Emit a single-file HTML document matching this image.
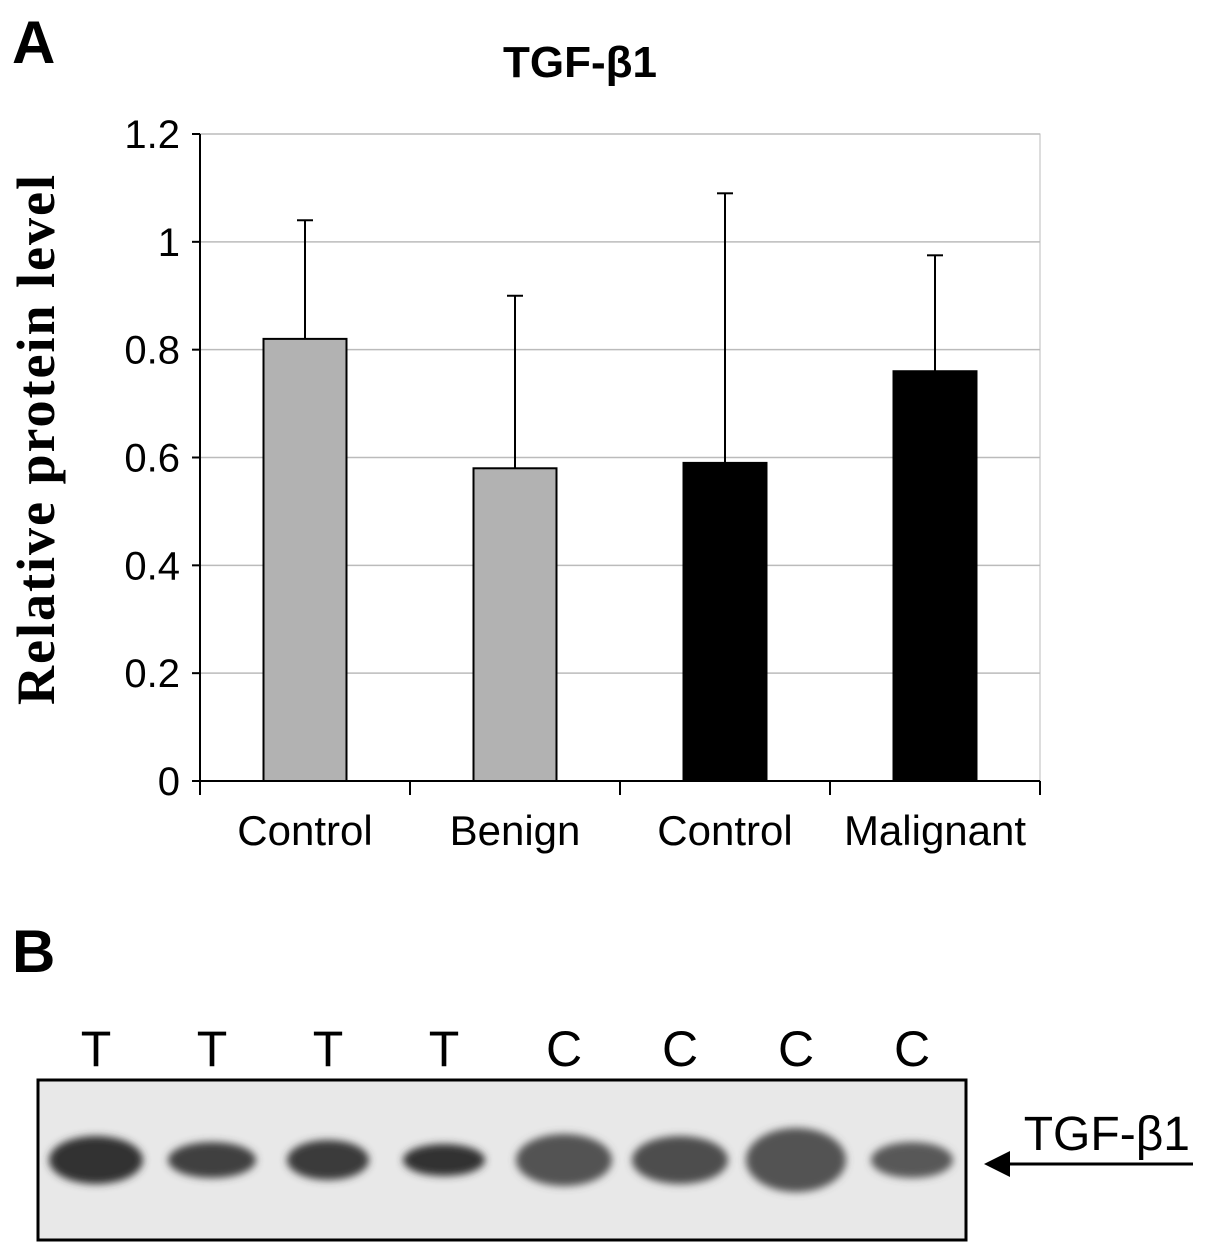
<!DOCTYPE html>
<html><head><meta charset="utf-8"><style>
body{margin:0;background:#fff;width:1205px;height:1251px;overflow:hidden}
svg text{font-family:"Liberation Sans",sans-serif}
</style></head><body>
<svg width="1205" height="1251" viewBox="0 0 1205 1251" xmlns="http://www.w3.org/2000/svg">
<defs>
<filter id="blur" x="-20%" y="-50%" width="140%" height="200%"><feGaussianBlur stdDeviation="4"/></filter>
</defs>
<text x="12" y="63" font-size="60" font-weight="bold">A</text>
<text x="580" y="77" font-size="44" font-weight="bold" text-anchor="middle">TGF-β1</text>
<text transform="translate(54,440) rotate(-90)" font-size="54" font-weight="bold" text-anchor="middle" textLength="530" style="font-family:'Liberation Serif',serif">Relative protein level</text>
<g id="chart"></g>
<text x="12" y="972" font-size="60" font-weight="bold">B</text>
<g id="blot"></g>
<text x="1190" y="1150" font-size="48" text-anchor="end">TGF-β1</text>
<line x1="1000" y1="1164" x2="1193" y2="1164" stroke="#000" stroke-width="3"/>
<polygon points="984,1164 1010,1151 1010,1177" fill="#000"/>
</svg>
<script>
const categories=["Control","Benign","Control","Malignant"];
const values=[0.82,0.58,0.59,0.76];
const errTops=[1.04,0.90,1.09,0.975];
const barColors=["#b2b2b2","#b2b2b2","#000","#000"];
const yTicks=[0,0.2,0.4,0.6,0.8,1,1.2];
const yTickLabels=["0","0.2","0.4","0.6","0.8","1","1.2"];
const laneLabels=["T","T","T","T","C","C","C","C"];
const bandWidths=[94,88,82,82,96,96,100,82];
const bandHeights=[48,36,40,32,52,48,64,36];
const bandDark=[0.8,0.75,0.77,0.8,0.68,0.7,0.68,0.65];
const NS="http://www.w3.org/2000/svg";
const x0=200,x1=1040,yBase=781,yTop=134,vMax=1.2;
const y=v=>yBase-(v/vMax)*(yBase-yTop);
const band=(x1-x0)/categories.length;
const xc=i=>x0+band*(i+0.5);
const g=document.getElementById('chart');
function mk(t,a,p){const e=document.createElementNS(NS,t);for(const k in a)e.setAttribute(k,a[k]);(p||g).appendChild(e);return e;}
mk('rect',{x:x0,y:yTop,width:x1-x0,height:yBase-yTop,fill:'none',stroke:'#bbb','stroke-width':1});
yTicks.forEach((v,i)=>{
  if(v>0){const l=mk('line',{x1:x0,x2:x1,y1:y(v),y2:y(v),stroke:'#bbb','stroke-width':1.5});
  
  }
  mk('line',{x1:x0-8,x2:x0,y1:y(v),y2:y(v),stroke:'#000','stroke-width':2});
  const t=mk('text',{x:x0-20,y:y(v)+14,'font-size':40,'text-anchor':'end'});t.textContent=yTickLabels[i];
  
  
});
mk('line',{x1:x0,x2:x0,y1:yTop,y2:yBase,stroke:'#000','stroke-width':2});
mk('line',{x1:x0,x2:x1,y1:yBase,y2:yBase,stroke:'#000','stroke-width':2});
for(let i=0;i<=categories.length;i++)mk('line',{x1:x0+band*i,x2:x0+band*i,y1:yBase,y2:yBase+14,stroke:'#000','stroke-width':2});
categories.forEach((c,i)=>{
  const bw=83,cx=xc(i);
  const eb=mk('line',{x1:cx,x2:cx,y1:y(errTops[i]),y2:y(values[i]),stroke:'#000','stroke-width':2});
  
  
  mk('line',{x1:cx-8,x2:cx+8,y1:y(errTops[i]),y2:y(errTops[i]),stroke:'#000','stroke-width':2});
  const r=mk('rect',{x:cx-bw/2,y:y(values[i]),width:bw,height:yBase-y(values[i]),fill:barColors[i],stroke:'#000','stroke-width':2});
  
  
  const t=mk('text',{x:cx,y:845,'font-size':42,'text-anchor':'middle'});t.textContent=c;
  
  
});
const b=document.getElementById('blot');
const bx0=38,bx1=966,by0=1080,by1=1240;
mk('rect',{x:bx0,y:by0,width:bx1-bx0,height:by1-by0,fill:'#e8e8e8',stroke:'#000','stroke-width':3},b);
const lane=(bx1-bx0)/laneLabels.length;
laneLabels.forEach((l,i)=>{
  const cx=bx0+lane*(i+0.5)+(i>=4?4:0);
  const t=mk('text',{x:cx,y:1066,'font-size':50,'text-anchor':'middle'},b);t.textContent=l;
  
  
  const e=mk('ellipse',{cx:cx,cy:1160,rx:bandWidths[i]/2,ry:bandHeights[i]/2,fill:'rgb('+Math.round(255*(1-bandDark[i]))+','+Math.round(255*(1-bandDark[i]))+','+Math.round(255*(1-bandDark[i]))+')',filter:'url(#blur)'},b);
  
  
});
</script>
</body></html>
